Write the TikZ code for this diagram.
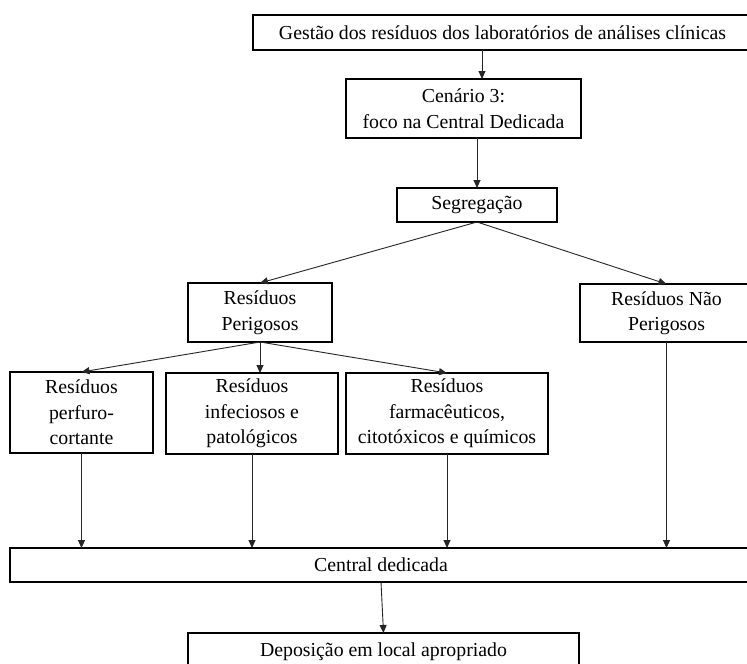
\documentclass[tikz,border=0pt]{standalone}
\usepackage{fontspec}
\setmainfont{Liberation Serif}
\usepackage{tikz}
\usetikzlibrary{arrows.meta,positioning}
\tikzset{
    stage/.style={draw, line width=1.1pt, align=center,
    font=\fontsize{19.8}{25.5}\selectfont, inner sep=0pt, outer sep=0pt},
    link/.style={-{Triangle[length=8pt,width=7pt]}, line width=0.9pt, draw=black!85},
}

\begin{document}
\begin{tikzpicture}[x=1pt, y=-1pt]
            \clip (0,0) rectangle (747,664);
            \fill[white] (0,0) rectangle (747,664);
            % --- top of the chain ---
            \node[stage, minimum width=499pt, minimum height=35pt] (gest) at (502.5,32.5) {Gestão dos resíduos dos laboratórios de análises clínicas};
            \node[stage, minimum width=235pt, minimum height=59pt] (cen) at (463.5,108.5) {Cenário 3:\\foco na Central Dedicada};
            \node[stage, minimum width=160pt, minimum height=34pt] (seg) at (477,205) {Segregação};
            % --- first split ---
            \node[stage, minimum width=144pt, minimum height=59pt] (per) at (260,312.5) {Resíduos\\Perigosos};
            \node[stage, minimum width=173pt, minimum height=58pt] (np) at (666.5,313) {Resíduos Não\\Perigosos};
            % --- hazardous groups ---
            \node[stage, minimum width=143pt, minimum height=81pt] (pc) at (81.5,412.5) {Resíduos\\perfuro-\\cortante};
            \node[stage, minimum width=172pt, minimum height=81pt] (inf) at (252,413.5) {Resíduos\\infeciosos e\\patológicos};
            \node[stage, minimum width=202pt, minimum height=81pt] (far) at (447,413.5) {Resíduos\\farmacêuticos,\\citotóxicos e químicos};
            % --- end of the chain ---
            \node[stage, minimum width=742pt, minimum height=34pt] (cd) at (381,565) {Central dedicada};
            \node[stage, minimum width=391pt, minimum height=38pt] (dep) at (383.5,652) {Deposição em local apropriado};
            % --- connectors ---
            \coordinate (cin) at ([xshift=18.5pt]cen.north);
            \draw[link] (cin |- gest.south) -- (cin);
            \draw[link] (cen.south -| seg.north) -- (seg.north);
            \draw[link] (seg.south) -- (per.north);
            \draw[link] (seg.south) -- (np.north);
            \draw[link] (per.south) -- (pc.north);
            \draw[link] (per.south) -- (per.south |- inf.north);
            \draw[link] (per.south) -- (far.north);
            \draw[link] (pc.south) -- (pc.south |- cd.north);
            \draw[link] (inf.south) -- (inf.south |- cd.north);
            \draw[link] (far.south) -- (far.south |- cd.north);
            \draw[link] (np.south) -- (np.south |- cd.north);
            \draw[link] (cd.south) -- (dep.north);
        \end{tikzpicture}
\end{document}
